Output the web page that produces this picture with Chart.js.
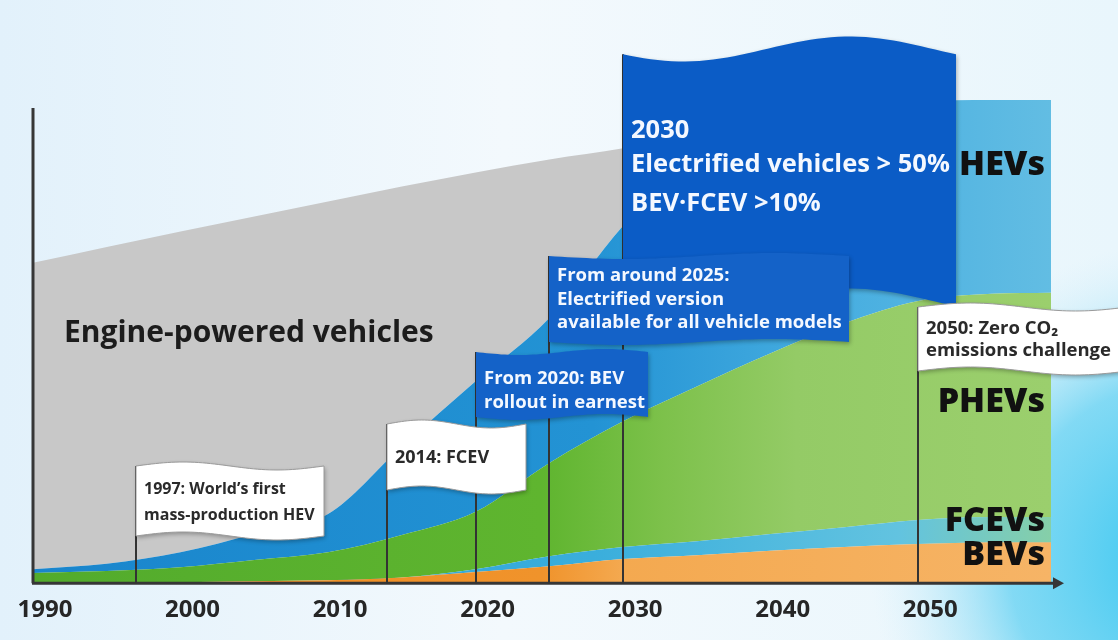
<!DOCTYPE html>
<html>
<head>
<meta charset="utf-8">
<script src="https://cdn.jsdelivr.net/npm/chart.js@4.4.1/dist/chart.umd.min.js"></script>
<style>
  html, body { margin: 0; padding: 0; background: #fff; }
  #wrap { width: 1118px; height: 640px; }
</style>
</head>
<body>
<div id="wrap"><canvas id="roadmap" width="1118" height="640"></canvas></div>
<script>
// time axis
var years = [1990, 1995, 2000, 2005, 2010, 2015, 2020, 2025, 2030, 2035, 2040, 2045, 2050, 2055, 2059];
var tickYears = [1990, 2000, 2010, 2020, 2030, 2040, 2050];

// vehicle share per powertrain, stacked bottom to top
var bevShare    = [0, 0, 0.2, 0.4, 0.6, 1.2, 2.3, 3.5, 5.0, 5.8, 6.7, 7.5, 8.1, 8.5, 8.5];
var fcevShare   = [0, 0, 0, 0, 0, 0, 0.6, 2.1, 2.5, 2.9, 3.5, 4.1, 5.0, 5.2, 5.2];
var phevShare   = [2.1, 2.5, 3.1, 4.4, 5.8, 8.8, 11.9, 19.3, 26.0, 32.0, 37.4, 42.2, 45.3, 46.2, 46.4];
var hevShare    = [0.8, 1.5, 3.1, 5.4, 7.9, 18.3, 27.0, 30.0, 40.5, 47.9, 48.2, 44.1, 41.2, 40.1, 39.9];
var engineShare = [63.4, 65.6, 66.4, 65.7, 64.7, 53.8, 43.2, 32.8, 16.0, 4.5, 0, 0, 0, 0, 0];

var seriesNames = ["BEVs", "FCEVs", "PHEVs", "HEVs", "Engine-powered vehicles"];

// milestones (flag on a pole)
var milestoneYears = [1997, 2014, 2020, 2025, 2030, 2050];
var milestoneText = [
    ["1997: World\u2019s first", "mass-production HEV"],
    ["2014: FCEV"],
    ["From 2020: BEV", "rollout in earnest"],
    ["From around 2025:", "Electrified version", "available for all vehicle models"],
    ["2030", "Electrified vehicles > 50%", "BEV\u00b7FCEV >10%"],
    ["2050: Zero CO\u2082", "emissions challenge"]
];

// how each flag looks: top, height, width, wave, colours, text rows
var flagStyle = [
    { top: 466, h: 70, w: 188, amp: 4, phase: Math.PI, blue: false, font: "bold 16px 'Open Sans'", rows: [489, 515] },
    { top: 424, h: 66, w: 139, amp: 4, phase: Math.PI, blue: false, font: "bold 18px 'Open Sans'", rows: [458] },
    { top: 352, h: 65, w: 172, amp: 3, phase: 0, blue: true, font: "bold 18.5px 'Open Sans'", rows: [379, 403] },
    { top: 256, h: 86, w: 300, amp: 3, phase: 0, blue: true, font: "bold 18.5px 'Open Sans'", rows: [276, 300, 323] },
    { top: 49, h: 252, w: 333, amp: 12.5, phase: 0.44, blue: true, font: "bold 25.5px 'Open Sans'", rows: [131, 165, 204] },
    { top: 307, h: 64, w: 210, amp: 4, phase: Math.PI, blue: false, font: "bold 18.5px 'Open Sans'", rows: [329, 351] }
];
// back to front
var flagOrder = [4, 3, 2, 1, 0, 5];

function points(values) {
    return years.map(function (yr, i) { return { x: yr, y: values[i] }; });
}

function hGrad(stops) {
    return function (context) {
        var chart = context.chart, area = chart.chartArea;
        if (!area) return stops[0][1];
        var g = chart.ctx.createLinearGradient(area.left, 0, area.right, 0);
        stops.forEach(function (s) { g.addColorStop(s[0], s[1]); });
        return g;
    };
}

function wavePath(ctx, x, y, w, h, amp, phase) {
    var n = 48;
    ctx.beginPath();
    for (var i = 0; i <= n; i++) {
        var t = i / n;
        var yy = y + amp * Math.sin(2 * Math.PI * t + phase);
        if (i === 0) ctx.moveTo(x + t * w, yy); else ctx.lineTo(x + t * w, yy);
    }
    for (var j = n; j >= 0; j--) {
        var t2 = j / n;
        ctx.lineTo(x + t2 * w, y + h + amp * Math.sin(2 * Math.PI * t2 + phase));
    }
    ctx.closePath();
}

// sky-like background behind everything
var backdrop = {
    id: 'backdrop',
    beforeDraw: function (chart) {
        var ctx = chart.ctx;
        ctx.save();
        var g = ctx.createLinearGradient(0, 0, 1118, 0);
        g.addColorStop(0, '#e2f1fb');
        g.addColorStop(0.45, '#f3f9fd');
        g.addColorStop(1, '#e9f6fc');
        ctx.fillStyle = g;
        ctx.fillRect(0, 0, chart.width, chart.height);
        var r = ctx.createRadialGradient(1190, 560, 10, 1190, 560, 320);
        r.addColorStop(0, 'rgba(55,198,240,1)');
        r.addColorStop(0.55, 'rgba(95,208,242,0.75)');
        r.addColorStop(1, 'rgba(200,236,250,0)');
        ctx.fillStyle = r;
        ctx.fillRect(0, 0, chart.width, chart.height);
        ctx.restore();
    }
};

// axes with arrow, milestone flags and area names
var overlay = {
    id: 'overlay',
    afterDatasetsDraw: function (chart) {
        var ctx = chart.ctx, area = chart.chartArea, xs = chart.scales.x;
        ctx.save();

        ctx.strokeStyle = '#363636';
        ctx.lineWidth = 3;
        ctx.beginPath();
        ctx.moveTo(area.left, 108);
        ctx.lineTo(area.left, area.bottom);
        ctx.moveTo(area.left - 1, area.bottom);
        ctx.lineTo(1056, area.bottom);
        ctx.stroke();
        ctx.fillStyle = '#363636';
        ctx.beginPath();
        ctx.moveTo(1053, area.bottom - 6);
        ctx.lineTo(1064, area.bottom);
        ctx.lineTo(1053, area.bottom + 6);
        ctx.closePath();
        ctx.fill();

        flagOrder.forEach(function (k) {
            var st = flagStyle[k];
            var px = Math.round(xs.getPixelForValue(milestoneYears[k]));
            var top = st.top + st.amp * Math.sin(st.phase);

            ctx.strokeStyle = '#333';
            ctx.lineWidth = 2;
            ctx.beginPath();
            ctx.moveTo(px, top);
            ctx.lineTo(px, area.bottom);
            ctx.stroke();

            ctx.save();
            wavePath(ctx, px, st.top, st.w, st.h, st.amp, st.phase);
            ctx.shadowColor = 'rgba(0,0,0,0.3)';
            ctx.shadowBlur = 4;
            ctx.shadowOffsetX = 1;
            ctx.shadowOffsetY = 2;
            ctx.fillStyle = st.blue ? (k === 4 ? '#0b5cc6' : '#1462c8') : '#ffffff';
            ctx.fill();
            ctx.restore();
            if (!st.blue) {
                ctx.strokeStyle = '#9a9a9a';
                ctx.lineWidth = 1;
                wavePath(ctx, px, st.top, st.w, st.h, st.amp, st.phase);
                ctx.stroke();
            }

            ctx.fillStyle = st.blue ? '#f4f8ff' : '#2a2a2a';
            ctx.font = st.font;
            ctx.textAlign = 'left';
            ctx.textBaseline = 'middle';
            milestoneText[k].forEach(function (line, i) {
                ctx.fillText(line, px + 8, st.rows[i]);
            });
        });

        ctx.fillStyle = '#111';
        ctx.textBaseline = 'middle';
        ctx.textAlign = 'right';
        ctx.font = "800 34px 'Open Sans'";
        ctx.fillText(seriesNames[3], 1045, 165);
        ctx.fillText(seriesNames[2], 1045, 402);
        ctx.fillText(seriesNames[1], 1045, 521);
        ctx.fillText(seriesNames[0], 1045, 555);
        ctx.textAlign = 'left';
        ctx.font = "bold 30px 'Open Sans'";
        ctx.fillStyle = '#1c1c1c';
        ctx.fillText(seriesNames[4], 64, 333);

        ctx.restore();
    }
};

var areaStyle = { pointRadius: 0, borderWidth: 0, cubicInterpolationMode: 'monotone' };

new Chart(document.getElementById('roadmap').getContext('2d'), {
    type: 'line',
    data: {
        datasets: [
            Object.assign({ label: seriesNames[0], data: points(bevShare), fill: 'origin',
                backgroundColor: hGrad([[0, '#ee8b20'], [0.5, '#f0932b'], [0.58, '#f4a950'], [1, '#f6b466']]) }, areaStyle),
            Object.assign({ label: seriesNames[1], data: points(fcevShare), fill: '-1',
                backgroundColor: hGrad([[0, '#2b9ad6'], [0.55, '#3aaedc'], [0.85, '#62c3e0'], [1, '#86cfa8']]) }, areaStyle),
            Object.assign({ label: seriesNames[2], data: points(phevShare), fill: '-1',
                backgroundColor: hGrad([[0, '#52ab2c'], [0.5, '#5fb52f'], [0.62, '#7dc14b'], [0.75, '#94cb66'], [1, '#9bcf6d']]) }, areaStyle),
            Object.assign({ label: seriesNames[3], data: points(hevShare), fill: '-1',
                backgroundColor: hGrad([[0, '#1985cc'], [0.55, '#2393d4'], [0.78, '#46ade0'], [1, '#62bde3']]) }, areaStyle),
            Object.assign({ label: seriesNames[4], data: points(engineShare), fill: '-1',
                backgroundColor: '#c8c8c8' }, areaStyle)
        ]
    },
    options: {
        responsive: false,
        devicePixelRatio: 1,
        animation: false,
        events: [],
        layout: { padding: { left: 33, right: 67, top: 100, bottom: 2 } },
        plugins: { legend: { display: false }, tooltip: { enabled: false } },
        scales: {
            x: {
                type: 'linear',
                min: 1990,
                max: 2059,
                grid: { display: false, drawTicks: false },
                border: { display: false },
                afterBuildTicks: function (scale) {
                    scale.ticks = tickYears.map(function (v) { return { value: v }; });
                },
                // keep the plot edge on the y axis instead of making room for the first label
                afterFit: function (scale) {
                    scale.paddingLeft = 0;
                    scale.paddingRight = 0;
                },
                ticks: {
                    labelOffset: 12,
                    padding: 13,
                    color: '#262626',
                    font: { family: 'Open Sans', weight: 'bold', size: 24 },
                    callback: function (v) { return String(v); }
                }
            },
            y: {
                stacked: true,
                min: 0,
                max: 100,
                display: false
            }
        }
    },
    plugins: [backdrop, overlay]
});
</script>
</body>
</html>
